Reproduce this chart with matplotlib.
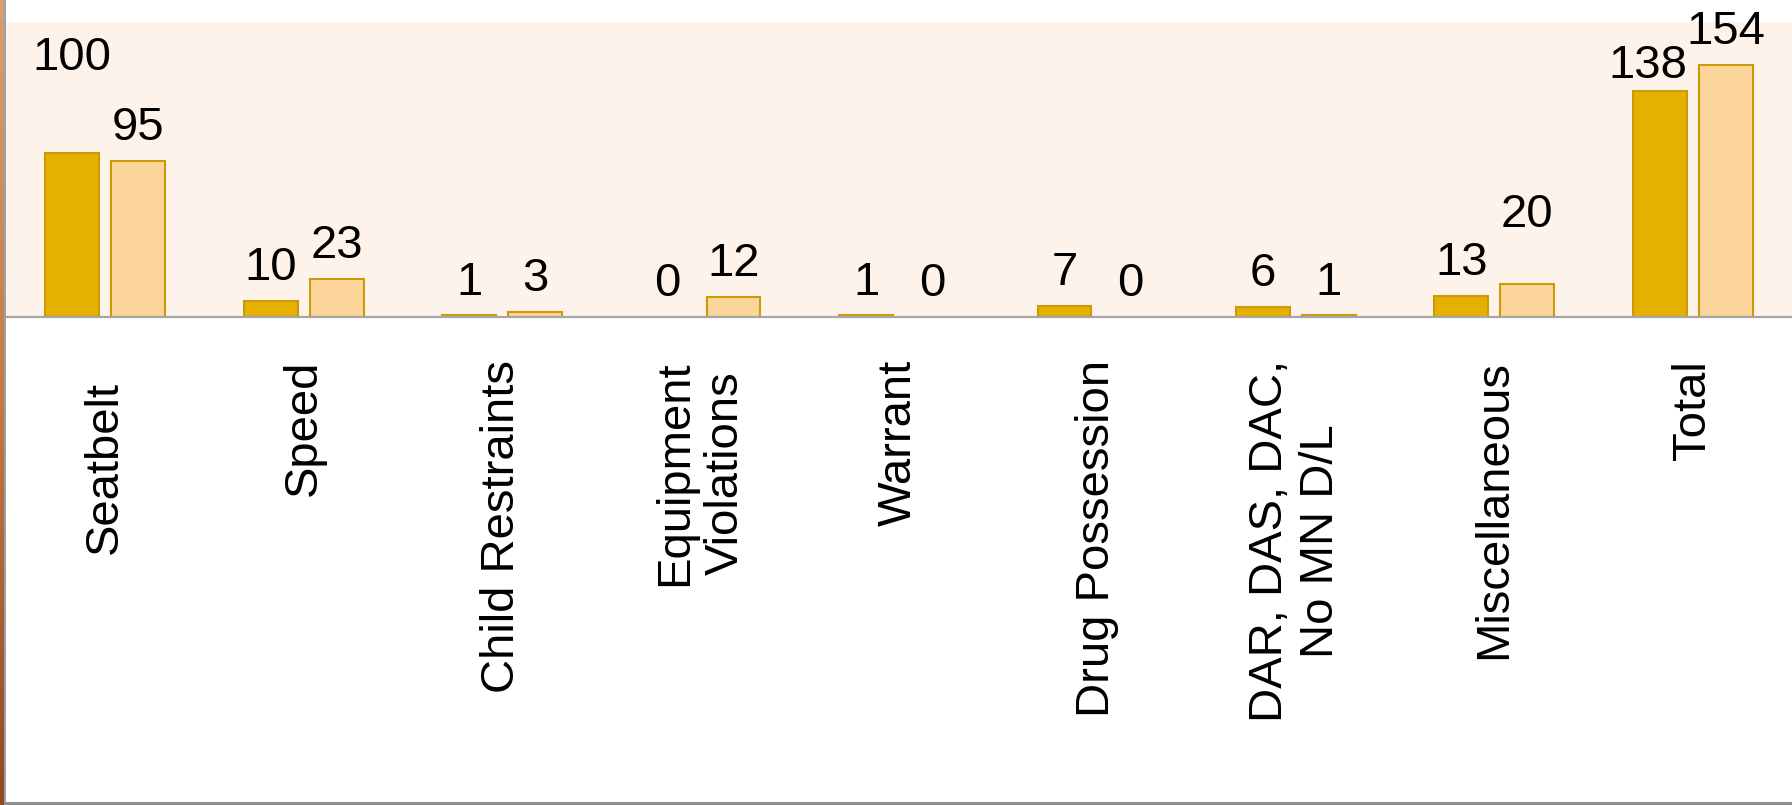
import numpy as np
import matplotlib
matplotlib.use("Agg")
import matplotlib.pyplot as plt
import matplotlib.transforms as mtransforms
from matplotlib.patches import Rectangle

# categories and the two series (earlier / later period)
categories = ["Seatbelt", "Speed", "Child Restraints", "Equipment\nViolations",
              "Warrant", "Drug Possession", "DAR, DAS, DAC,\nNo MN D/L",
              "Miscellaneous", "Total"]
series_a = [100, 10, 1, 0, 1, 7, 6, 13, 138]
series_b = [95, 23, 3, 12, 0, 0, 1, 20, 154]

# a few labels sit away from their bars in the original (points: dx, dy)
nudge_a = {0: (0, 45), 8: (-9, -6)}
nudge_b = {7: (0, 26)}

plt.rcParams['font.family'] = ['Liberation Sans', 'DejaVu Sans']

W, H = 1792, 805
fig = plt.figure(figsize=(W / 100, H / 100), dpi=100)
fig.patch.set_facecolor('white')

# plot area in pixel terms -> figure fractions
left, right, top, base = 6, 1792, 22, 317
ax = fig.add_axes([left / W, (H - base) / H, (right - left) / W, (base - top) / H])
ax.set_facecolor('#FDF3EA')

x = np.arange(len(categories))
bw = 0.272
off = 0.166
ax.bar(x - off, series_a, bw, color='#E6B000', edgecolor='#CC9A06', linewidth=1.5, zorder=2)
ax.bar(x + off, series_b, bw, color='#FCD59A', edgecolor='#CC9A06', linewidth=1.5, zorder=2)

for i, v in enumerate(series_a):
    dx, dy = nudge_a.get(i, (0, 0))
    ax.annotate(str(v), (x[i] - off, v), xytext=(dx, 15 + dy), textcoords='offset points',
                ha='center', va='baseline', fontsize=34, color='black')
for i, v in enumerate(series_b):
    dx, dy = nudge_b.get(i, (0, 0))
    ax.annotate(str(v), (x[i] + off, v), xytext=(dx, 15 + dy), textcoords='offset points',
                ha='center', va='baseline', fontsize=34, color='black')

ax.set_xlim(-0.5, len(categories) - 0.5)
ax.set_ylim(0, 180)
ax.set_xticks(x)
ax.set_xticklabels(categories, rotation=90, fontsize=34, multialignment='center')
ax.tick_params(axis='x', length=0, pad=31)
ax.set_yticks([])
for s in ['top', 'right', 'left']:
    ax.spines[s].set_visible(False)
ax.spines['bottom'].set_color('#A6A6A6')
ax.spines['bottom'].set_linewidth(1.6)

# "Seatbelt" sits a little lower than the others in the original
lab0 = ax.get_xticklabels()[0]
lab0.set_transform(lab0.get_transform() +
                   mtransforms.ScaledTranslation(0, -15 / 72, fig.dpi_scale_trans))

# slide frame bits: brown gradient strip, grey edges
strip = fig.add_axes([0, 0, 4 / W, 1])
grad = np.linspace(0, 1, 256).reshape(-1, 1)
cmap = matplotlib.colors.LinearSegmentedColormap.from_list('edge', ['#D6A073', '#C27A45', '#8E4A22'])
strip.imshow(grad, aspect='auto', cmap=cmap, extent=[0, 1, 0, 1])
strip.axis('off')
fig.patches.append(Rectangle((4 / W, 0), 2 / W, 1, transform=fig.transFigure,
                             facecolor='#A0A0A0', edgecolor='none'))
fig.patches.append(Rectangle((4 / W, 0), 1, 3 / H, transform=fig.transFigure,
                             facecolor='#909090', edgecolor='none'))

fig.savefig('out.png', dpi=100, facecolor='white')
